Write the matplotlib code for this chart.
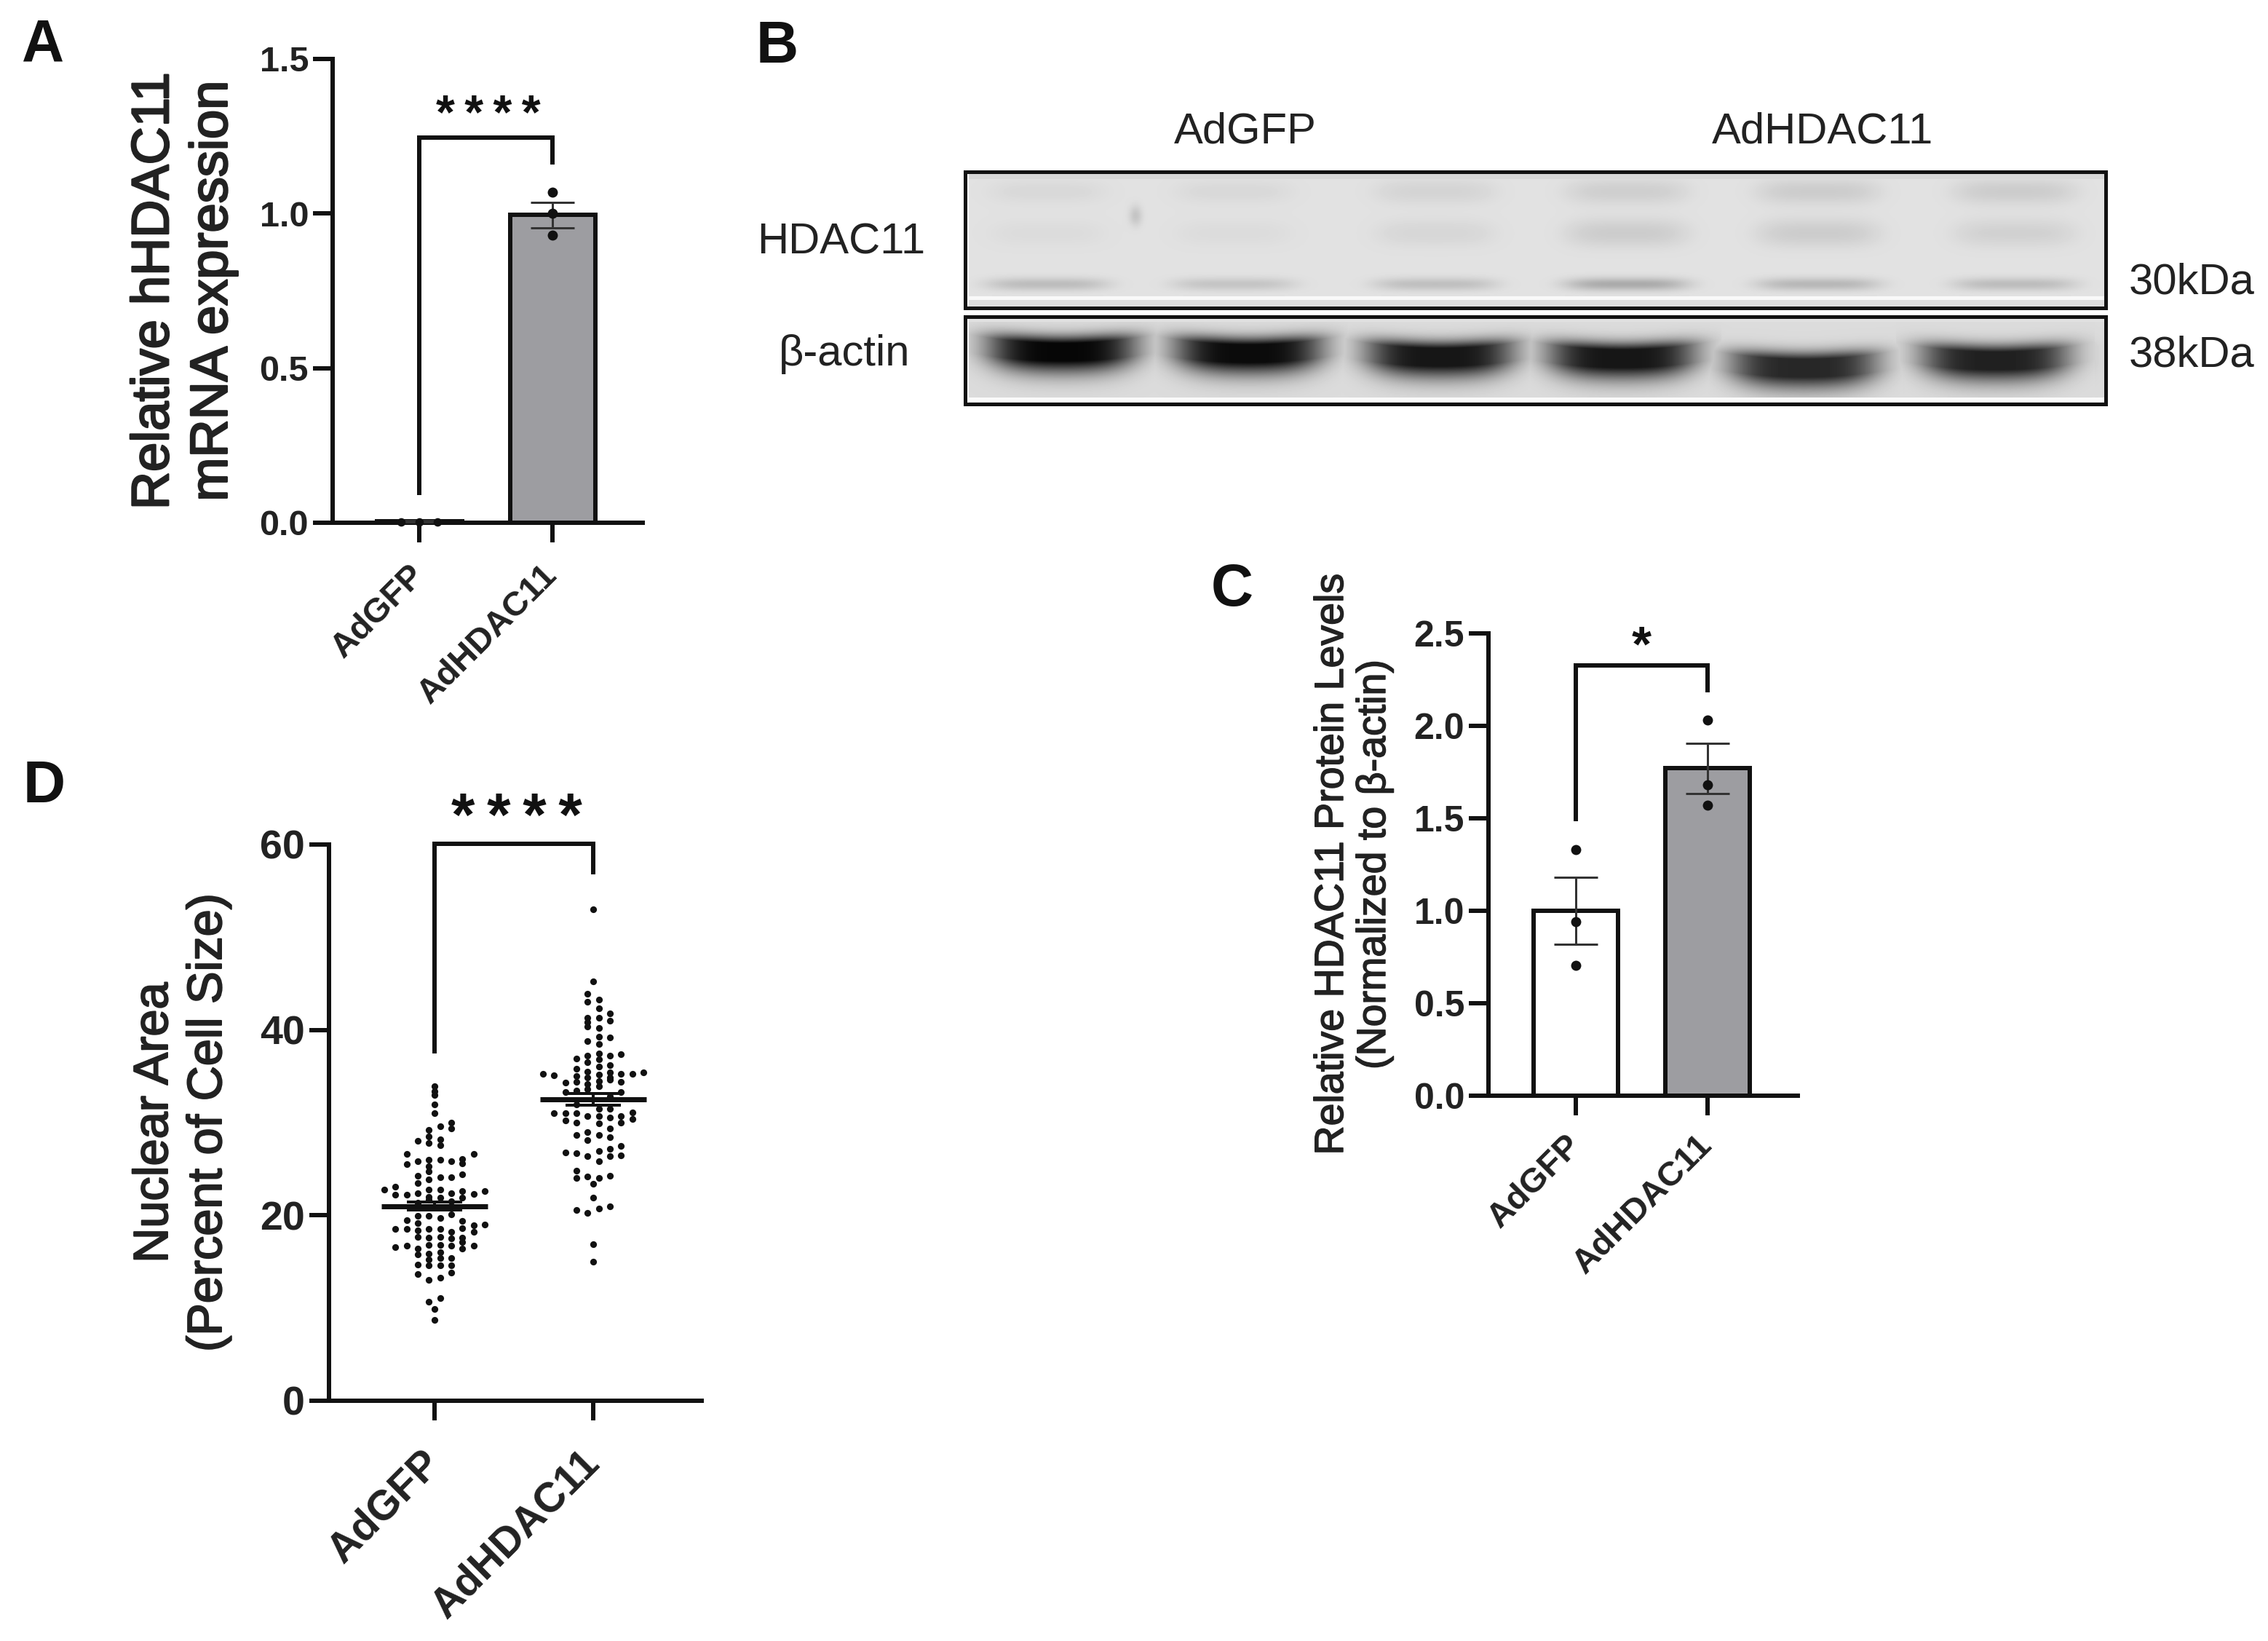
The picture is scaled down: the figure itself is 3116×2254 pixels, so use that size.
#!/usr/bin/env python3

import numpy as np
import matplotlib
matplotlib.use("Agg")
import matplotlib.pyplot as plt
import matplotlib.patheffects as pe

W, H = 3116, 2254
plt.rcParams['font.family'] = ['Liberation Sans', 'DejaVu Sans']

groups = ["AdGFP", "AdHDAC11"]

# panel A
a_means = [0.005, 0.995]
a_sem = [0.002, 0.041]
a_gfp_pts = [0.002, 0.003, 0.003]
a_gfp_jit = [-1, 0, 1]
a_hdac_pts = [1.07, 1.0, 0.93]

# panel C
c_means = [1.0, 1.77]
c_sem = [0.18, 0.135]
c_gfp_pts = [1.33, 0.94, 0.706]
c_hdac_pts = [2.03, 1.68, 1.57]

# panel D, values sorted by swarm column (column 0 is the group centre)
d_means = [21.0, 32.5]
d_sem = [0.45, 0.65]
d_gfp = {
    -5: [22.8],
    -4: [23.1, 22.2, 18.5, 16.6],
    -3: [26.6, 25.5, 22.2, 19.5, 18.5, 16.7],
    -2: [28.0, 25.8, 24.3, 23.5, 22.4, 21.4, 19.95, 19.2, 18.4, 17.7, 16.4, 15.8, 14.7, 13.7],
    -1: [29.25, 28.5, 27.8, 26.0, 25.3, 24.7, 23.9, 22.8, 22.0, 21.7, 19.95, 18.5, 17.6, 16.8,
         15.9, 15.2, 14.6, 13.0, 10.7],
    0: [33.9, 33.4, 33.0, 32.0, 31.0, 9.9, 8.7],
    1: [29.6, 28.2, 27.6, 26.0, 24.1, 22.8, 21.9, 19.7, 18.5, 17.7, 16.8, 16.0, 15.4, 14.6,
        13.3, 11.1],
    2: [30.0, 29.4, 25.85, 24.1, 22.4, 21.5, 20.1, 18.25, 17.5, 16.7, 15.4, 14.6, 13.8],
    3: [26.1, 25.6, 24.4, 22.6, 21.9, 19.4, 18.6, 17.6, 17.1, 16.4],
    4: [26.6, 22.3, 18.9, 18.25, 16.7],
    5: [22.6, 19.0],
}
d_hdac = {
    -5: [35.3],
    -4: [35.1, 31.0],
    -3: [34.3, 33.3, 31.0, 30.2, 26.8],
    -2: [36.9, 35.8, 35.0, 34.4, 33.45, 32.0, 31.0, 30.0, 28.65, 26.7, 24.8, 24.0, 20.6],
    -1: [43.9, 43.0, 41.3, 40.8, 40.4, 38.8, 37.2, 36.5, 35.5, 34.9, 34.2, 33.6, 30.7, 29.0,
         28.1, 26.4, 24.2, 20.3],
    0: [53.0, 45.2, 23.4, 21.9, 16.9, 15.0],
    1: [43.3, 42.3, 41.3, 40.2, 39.3, 38.5, 37.5, 36.85, 36.05, 35.15, 34.5, 33.9, 31.5, 30.7,
        29.9, 28.65, 26.9, 25.85, 24.0, 20.7],
    2: [41.8, 41.0, 39.2, 37.2, 36.2, 35.4, 34.9, 34.6, 32.8, 31.5, 30.55, 29.4, 28.4, 27.15,
        26.4, 24.3, 20.95],
    3: [37.4, 35.3, 34.4, 33.3, 30.7, 30.0, 27.5, 26.45],
    4: [35.3, 31.1, 30.4],
    5: [35.4],
}

# panel B, blot lanes
lanes_top = [1439, 1695, 1972, 2235, 2498, 2768]
top_upper = [0.04, 0.04, 0.06, 0.08, 0.09, 0.09]
top_middle = [0.03, 0.03, 0.05, 0.09, 0.09, 0.07]
top_lower = [0.15, 0.12, 0.14, 0.22, 0.17, 0.15]
lanes_actin = [1459, 1715, 1978, 2228, 2478, 2741]
actin_row = [37, 39, 44, 46, 59, 49]
actin_strength = [0.97, 0.95, 0.9, 0.9, 0.82, 0.85]

BLACK = "#111111"
GREY = "#9d9da1"
STAR_GAP = "\u2009"


def px(v):
    return v * 0.72


def axes_px(left, top, right, bottom):
    return fig.add_axes([left / W, 1 - bottom / H, (right - left) / W, (bottom - top) / H])


def style_axes(ax, ymax, yticks, ylabels, c0, c1, left, right, tick_size, lw=6, tl=27):
    # x positions are 0 and 1, limits worked out from the pixel spot of each group
    step = c1 - c0
    ax.set_xlim((left - c0) / step, (right - c0) / step)
    ax.set_ylim(0, ymax)
    ax.spines[['top', 'right']].set_visible(False)
    ax.spines[['left', 'bottom']].set_linewidth(px(lw))
    ax.spines[['left', 'bottom']].set_color(BLACK)
    ax.set_yticks(yticks, ylabels, fontsize=tick_size, fontweight='bold', color='#222222')
    ax.set_xticks([0, 1])
    ax.tick_params(width=px(lw), length=px(tl), color=BLACK, pad=px(6))
    ax.patch.set_alpha(0)


def rotated_labels(ax, size, pad):
    ax.set_xticklabels(groups, rotation=45, ha='right', va='center', rotation_mode='anchor',
                       fontsize=size, fontweight='bold', color='#222222')
    ax.tick_params(axis='x', pad=px(pad))


def bracket(ax, y_left, y_top, y_right, lw=6):
    ax.plot([0, 0, 1, 1], [y_left, y_top, y_top, y_right], color=BLACK, lw=px(lw),
            solid_joinstyle='miter', solid_capstyle='butt', clip_on=False, zorder=5)


def two_bars(ax, means, sem, width, err_lw=3, cap=30):
    ax.bar([0, 1], means, width=width, color=['white', GREY], edgecolor=BLACK, linewidth=px(6),
           zorder=2)
    ax.errorbar([0, 1], means, yerr=sem, fmt='none', ecolor='#333333', elinewidth=px(err_lw),
                capsize=px(cap), capthick=px(err_lw), zorder=4, clip_on=False)


def ylabel_at(ax, text, x_px, left, right, size, stroke, spacing):
    lab = ax.set_ylabel(text, fontsize=size, color='#222222', va='center', ha='center',
                        linespacing=spacing)
    lab.set_path_effects([pe.withStroke(linewidth=px(stroke), foreground='#222222')])
    ax.yaxis.set_label_coords((x_px - left) / (right - left), 0.5)


def letter(s, x, y):
    fig.text(x / W, 1 - y / H, s, fontsize=58, fontweight='bold', color=BLACK, ha='left', va='center')


def blot_text(s, x, y, ha='center'):
    fig.text(x / W, 1 - y / H, s, fontsize=43, color='#222222', ha=ha, va='center')


def stars(n, x, y, size):
    fig.text(x / W, 1 - y / H, STAR_GAP.join("*" * n), fontsize=size, fontweight='bold',
             ha='center', va='center', color=BLACK)


fig = plt.figure(figsize=(W / 100, H / 100), dpi=100)

# ---- A
ax = axes_px(457, 81, 883, 718)
style_axes(ax, 1.5, [0, 0.5, 1, 1.5], ["0.0", "0.5", "1.0", "1.5"], 576, 759, 457, 883, 35)
two_bars(ax, a_means, a_sem, 117 / 183, err_lw=3, cap=30)
ax.scatter(np.array(a_gfp_jit) * 0.137, a_gfp_pts, s=70, color=BLACK, linewidths=0, zorder=5, clip_on=False)
ax.scatter([1, 1, 1], a_hdac_pts, s=100, color=BLACK, linewidths=0, zorder=5)
bracket(ax, 0.09, 1.246, 1.159)
rotated_labels(ax, 34, 38)
ylabel_at(ax, "Relative hHDAC11\nmRNA expression", 253, 457, 883, 52, 2.5, 1.26)
stars(4, 671, 160, 48)

# ---- C
ax = axes_px(2045, 870, 2470, 1505)
style_axes(ax, 2.5, [0, 0.5, 1, 1.5, 2, 2.5], ["0.0", "0.5", "1.0", "1.5", "2.0", "2.5"],
           2165, 2346, 2045, 2470, 36)
two_bars(ax, c_means, c_sem, 116 / 181, err_lw=3, cap=30)
ax.scatter([0, 0, 0], c_gfp_pts, s=100, color=BLACK, linewidths=0, zorder=5)
ax.scatter([1, 1, 1], c_hdac_pts, s=100, color=BLACK, linewidths=0, zorder=5)
bracket(ax, 1.485, 2.327, 2.18)
rotated_labels(ax, 34, 34)
ylabel_at(ax, "Relative HDAC11 Protein Levels\n(Normalized to \u03b2-actin)", 1860, 2045, 2470, 40, 1.5, 1.15)
stars(1, 2255, 889, 50)

# ---- D
ax = axes_px(452, 1160, 964, 1924)
style_axes(ax, 60, [0, 20, 40, 60], ["0", "20", "40", "60"], 597, 815, 452, 964, 40)
col_step = 15.3 / 218
for i, swarm in enumerate([d_gfp, d_hdac]):
    for col, vals in swarm.items():
        offset = np.sign(col) * (abs(col) - 0.5) * col_step
        ax.scatter([i + offset] * len(vals), vals, s=44, color=BLACK, linewidths=0, zorder=3)
    ax.plot([i - 73 / 218, i + 73 / 218], [d_means[i]] * 2, color=BLACK, lw=px(7), zorder=4,
            solid_capstyle='butt')
    ax.errorbar([i], [d_means[i]], yerr=d_sem[i], fmt='none', ecolor=BLACK, elinewidth=px(4),
                capsize=px(38), capthick=px(4), zorder=4)
bracket(ax, 37.5, 60.1, 56.8)
rotated_labels(ax, 41, 50)
ylabel_at(ax, "Nuclear Area\n(Percent of Cell Size)", 250, 452, 964, 48, 2, 1.25)
stars(4, 710, 1126, 60)

# ---- B, blot strips built from the lane lists
x_blot = np.arange(1326, 2893)
y_top = np.arange(0, 187)
xx, yy = np.meshgrid(x_blot, y_top)
top_img = np.full(xx.shape, 0.89)
for xc, u, m, l in zip(lanes_top, top_upper, top_middle, top_lower):
    prof = np.exp(-((xx - xc) / 85.0) ** 4)
    top_img -= u * prof * np.exp(-((yy - 27) / 18.0) ** 2)
    top_img -= m * prof * np.exp(-((yy - 84) / 20.0) ** 2)
    top_img -= l * prof * np.exp(-((yy - 154) / 9.0) ** 2)
top_img -= 0.12 * np.exp(-((xx - 1560) / 9.0) ** 2 - ((yy - 60) / 14.0) ** 2)
top_img[:10] = 0.84
top_img[-16:-11] = 0.98
top_img[-11:] = 0.86
top_img[:, :5] = 0.97

y_act = np.arange(0, 120)
xa, ya = np.meshgrid(x_blot, y_act)
act_img = np.full(xa.shape, 0.86)
for xc, row, amp in zip(lanes_actin, actin_row, actin_strength):
    u = (xa - xc) / 105.0
    centre = row + 8 * (1 - u ** 2) * (np.abs(u) < 1.3)
    d = ya - centre
    sig = np.where(d < 0, 18.0, 30.0)
    band = np.minimum(1.0, 1.3 * np.exp(-(d / sig) ** 2)) * np.exp(-np.abs(u) ** 4)
    act_img = np.minimum(act_img, 0.86 - amp * 0.86 * band)
act_img[:7] = 0.88
act_img[-9:-3] = 0.98
act_img[:, :5] = 0.97

for strip, top, bottom in [(top_img, 236, 423), (act_img, 435, 555)]:
    ax = axes_px(1326, top, 2893, bottom)
    ax.imshow(strip, cmap='gray', vmin=0, vmax=1, aspect='auto', interpolation='bilinear')
    ax.set_xticks([])
    ax.set_yticks([])
    ax.spines[:].set_linewidth(px(5))
    ax.spines[:].set_color(BLACK)

blot_text("AdGFP", 1711, 181)
blot_text("AdHDAC11", 2504, 181)
blot_text("HDAC11", 1156, 333)
blot_text("\u03b2-actin", 1160, 486)
blot_text("30kDa", 2925, 388, ha='left')
blot_text("38kDa", 2925, 488, ha='left')

letter("A", 30, 62)
letter("B", 1039, 65)
letter("C", 1664, 811)
letter("D", 32, 1081)

plt.savefig("out.png", dpi=100)
